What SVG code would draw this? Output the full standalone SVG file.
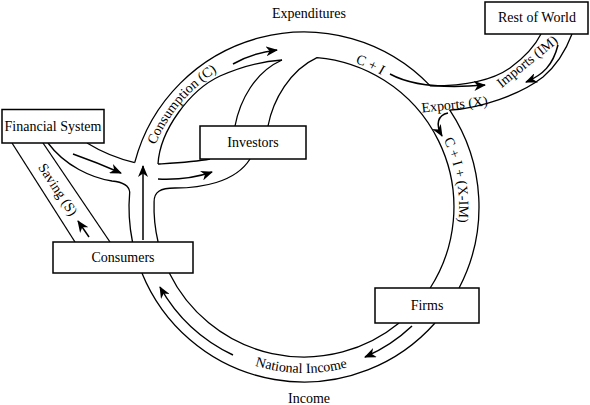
<svg xmlns="http://www.w3.org/2000/svg" width="590" height="405" viewBox="0 0 590 405">
<style>
.ch{fill:none;stroke:#000;stroke-width:1.3}
.ar{fill:none;stroke:#000;stroke-width:1.5;marker-end:url(#ah)}
.box{fill:#fff;stroke:#000;stroke-width:1.5}
text{font-family:"Liberation Serif","Times New Roman",serif;font-size:14px;fill:#000}
.c{text-anchor:middle}
</style>
<defs>
<marker id="ah" markerUnits="userSpaceOnUse" viewBox="0 0 12 10" markerWidth="12" markerHeight="10" refX="11" refY="5" orient="auto">
<path d="M0,0 L12,5 L0,10 L3.5,5 z" fill="#000"/>
</marker>
<path id="tpCons" d="M145.4,179 A161,161 0 0 1 248.9,55.7"/>
<path id="tpCI" d="M304,54 A153,153 0 0 1 421.2,108.7"/>
<path id="tpCIX" d="M422.7,107.4 A155,155 0 0 1 449.7,260"/>
<path id="tpNI" d="M208.8,343 A166,166 0 0 0 394.4,346.2"/>
</defs>
<g id="connectors">
<path class="ch" d="M134.7,162.6 A175,175 0 0 1 430.3,85.9 C460,86 490,82 510,68 C525,57 535,46 541,34"/>
<path class="ch" d="M572,34 C566,50 557,65 543,77 C520,95 480,108 449.8,110.2 A175,175 0 0 1 459.1,288"/>
<path class="ch" d="M435,323 A175,175 0 0 1 141.9,273"/>
<path class="ch" d="M132.5,242 A175,175 0 0 1 129.7,192 C129,185 122,182 112,181 C92,178 65,166 48,143"/>
<path class="ch" d="M87,143 C100,151 115,158 134.7,162.6"/>
<path class="ch" d="M12,143 L75,242"/>
<path class="ch" d="M43,143 L110,242"/>
<path class="ch" d="M158,164 C160,130 190,90 220,76 C245,65 265,61 282,60"/>
<path class="ch" d="M235,126 C240,100 255,72 282,60"/>
<path class="ch" d="M268,126 C273,100 290,70 317,57.6 A150,150 0 0 1 430.2,288"/>
<path class="ch" d="M158,164 C175,163 195,162 210,159"/>
<path class="ch" d="M158.1,242 A150,150 0 0 1 154.1,201.8 C154,192 160,188 175,188 C200,188 235,183 250,159"/>
<path class="ch" d="M399.1,323 A150,150 0 0 1 169.3,273"/>
<path class="ar" d="M143,240 L143,166"/>
<path class="ar" d="M73,154 C90,160 105,166 121,173"/>
<path class="ar" d="M158,179 C180,180 195,178 212,172"/>
<path class="ar" d="M233,64 C245,57 260,52 277,50"/>
<path class="ar" d="M390,74 C410,85 440,89 485,85"/>
<path class="ar" d="M448,113 C438,115 435,124 442,136"/>
<path class="ar" d="M558,45 C553,65 543,75 526,82"/>
<path class="ar" d="M412,326 A161,161 0 0 1 365,357"/>
<path class="ar" d="M233,355 A164,164 0 0 1 160,287"/>
<path class="ar" d="M89,237 L78,221"/>
</g>
<g id="financial-system"><rect class="box" x="2" y="109.5" width="102" height="33.5"/><text class="c" x="53" y="131">Financial System</text></g>
<g id="investors"><rect class="box" x="200" y="126" width="106" height="33"/><text class="c" x="253" y="147">Investors</text></g>
<g id="consumers"><rect class="box" x="53" y="242" width="140" height="31"/><text class="c" x="123" y="262">Consumers</text></g>
<g id="firms"><rect class="box" x="375" y="288" width="104" height="35"/><text class="c" x="427" y="310">Firms</text></g>
<g id="rest-of-world"><rect class="box" x="485" y="2" width="103" height="32"/><text class="c" x="537" y="22">Rest of World</text></g>
<g id="labels">
<text class="c" x="309" y="18">Expenditures</text>
<text class="c" x="309" y="403">Income</text>
<text class="c"><textPath href="#tpCons" startOffset="50%">Consumption (C)</textPath></text>
<text class="c"><textPath href="#tpCI" startOffset="50%">C + I</textPath></text>
<text class="c"><textPath href="#tpCIX" startOffset="50%">C + I + (X-IM)</textPath></text>
<text class="c"><textPath href="#tpNI" startOffset="50%">National Income</textPath></text>
<text class="c" transform="translate(54,192) rotate(56.7)">Saving (S)</text>
<text class="c" transform="translate(530,65) rotate(-39)">Imports (IM)</text>
<text class="c" transform="translate(455,109) rotate(-6)">Exports (X)</text>
</g>
</svg>
